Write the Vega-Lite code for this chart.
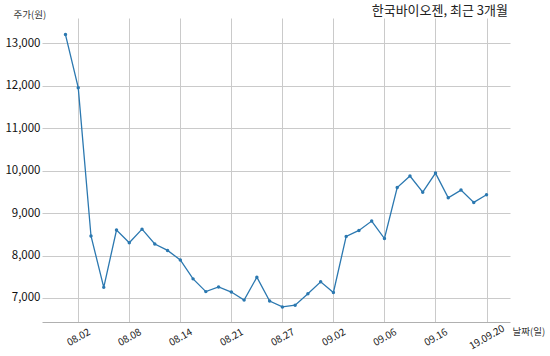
{
  "$schema": "https://vega.github.io/schema/vega-lite/v6.json",
  "autosize": "none",
  "width": 468,
  "height": 304,
  "padding": {"left": 42, "top": 18, "right": 40, "bottom": 34},
  "background": "white",
  "config": {
    "view": {"stroke": null},
    "font": "Noto Sans CJK KR"
  },
  "title": {
    "text": "한국바이오젠, 최근 3개월",
    "anchor": "end",
    "frame": "group",
    "fontSize": 13,
    "fontWeight": "normal",
    "color": "#222222",
    "font": "Noto Sans CJK KR",
    "offset": -9,
    "dx": -2
  },
  "data": {
    "values": [
      {"date": "2019-08-01", "price": 13200},
      {"date": "2019-08-02", "price": 11950},
      {"date": "2019-08-05", "price": 8460},
      {"date": "2019-08-06", "price": 7250},
      {"date": "2019-08-07", "price": 8600},
      {"date": "2019-08-08", "price": 8300},
      {"date": "2019-08-09", "price": 8620},
      {"date": "2019-08-12", "price": 8270},
      {"date": "2019-08-13", "price": 8120},
      {"date": "2019-08-14", "price": 7895},
      {"date": "2019-08-16", "price": 7450},
      {"date": "2019-08-19", "price": 7150},
      {"date": "2019-08-20", "price": 7260},
      {"date": "2019-08-21", "price": 7140},
      {"date": "2019-08-22", "price": 6950},
      {"date": "2019-08-23", "price": 7490},
      {"date": "2019-08-26", "price": 6930},
      {"date": "2019-08-27", "price": 6790},
      {"date": "2019-08-28", "price": 6830},
      {"date": "2019-08-29", "price": 7100},
      {"date": "2019-08-30", "price": 7380},
      {"date": "2019-09-02", "price": 7130},
      {"date": "2019-09-03", "price": 8450},
      {"date": "2019-09-04", "price": 8590},
      {"date": "2019-09-05", "price": 8810},
      {"date": "2019-09-06", "price": 8400},
      {"date": "2019-09-09", "price": 9600},
      {"date": "2019-09-10", "price": 9870},
      {"date": "2019-09-11", "price": 9490},
      {"date": "2019-09-16", "price": 9940},
      {"date": "2019-09-17", "price": 9360},
      {"date": "2019-09-18", "price": 9540},
      {"date": "2019-09-19", "price": 9250},
      {"date": "2019-09-20", "price": 9430}
    ]
  },
  "encoding": {
    "x": {
      "field": "date",
      "type": "ordinal",
      "sort": null,
      "scale": {
        "type": "point",
        "padding": 0.84,
        "domain": ["", "2019-08-01", "2019-08-02", "2019-08-05", "2019-08-06", "2019-08-07", "2019-08-08", "2019-08-09", "2019-08-12", "2019-08-13", "2019-08-14", "2019-08-16", "2019-08-19", "2019-08-20", "2019-08-21", "2019-08-22", "2019-08-23", "2019-08-26", "2019-08-27", "2019-08-28", "2019-08-29", "2019-08-30", "2019-09-02", "2019-09-03", "2019-09-04", "2019-09-05", "2019-09-06", "2019-09-09", "2019-09-10", "2019-09-11", "2019-09-16", "2019-09-17", "2019-09-18", "2019-09-19", "2019-09-20", " "]
      },
      "axis": {
        "values": ["2019-08-02", "2019-08-08", "2019-08-14", "2019-08-21", "2019-08-27", "2019-09-02", "2019-09-06", "2019-09-16", "2019-09-20"],
        "labelExpr": "datum.value == '2019-09-20' ? '19.09.20' : slice(datum.value, 5, 7) + '.' + slice(datum.value, 8, 10)",
        "labelAngle": -30,
        "labelAlign": "center",
        "labelBaseline": "middle",
        "labelPadding": 15,
        "labelFontSize": 10,
        "labelColor": "#222222",
        "labelOverlap": false,
        "labelFlush": false,
        "labelBound": false,
        "ticks": false,
        "grid": true,
        "gridColor": "#cacaca",
        "gridWidth": 1,
        "domain": true,
        "domainColor": "#b0b0b0",
        "domainWidth": 1,
        "title": "날짜(일)",
        "titleAngle": 0,
        "titleX": 470,
        "titleY": 9,
        "titleAlign": "left",
        "titleBaseline": "middle",
        "titleFontSize": 9.5,
        "titleFontWeight": "normal",
        "titleColor": "#333333"
      }
    },
    "y": {
      "field": "price",
      "type": "quantitative",
      "scale": {"domain": [6435, 13590], "nice": false, "zero": false},
      "axis": {
        "values": [7000, 8000, 9000, 10000, 11000, 12000, 13000],
        "format": ",.0f",
        "labelFontSize": 11.5,
        "labelColor": "#111111",
        "labelPadding": 2,
        "ticks": false,
        "domain": false,
        "grid": true,
        "gridColor": "#cacaca",
        "gridWidth": 1,
        "title": "주가(원)",
        "titleAngle": 0,
        "titleX": -29,
        "titleY": -4,
        "titleAlign": "left",
        "titleBaseline": "middle",
        "titleFontSize": 9.5,
        "titleFontWeight": "normal",
        "titleColor": "#333333"
      }
    }
  },
  "layer": [
    {"mark": {"type": "line", "color": "#2b78b0", "strokeWidth": 1.3}},
    {"mark": {"type": "point", "filled": true, "color": "#2b78b0", "size": 12, "opacity": 1}}
  ]
}
